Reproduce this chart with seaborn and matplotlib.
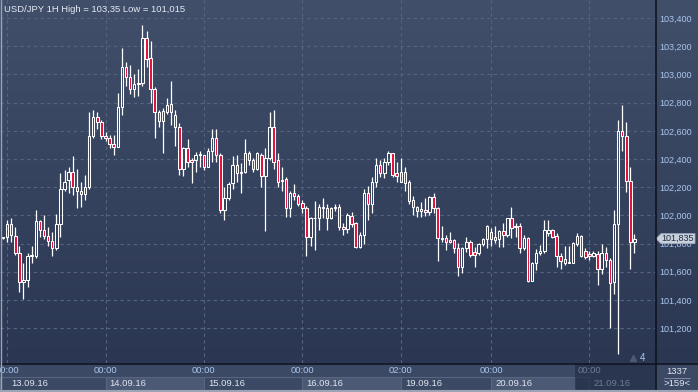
import numpy as np
import matplotlib
matplotlib.use('Agg')
import seaborn as sns
import matplotlib.pyplot as plt
import matplotlib.transforms as mtrans
from matplotlib.patches import Polygon
from matplotlib.lines import Line2D

# USD/JPY hourly candles, 13.09.16 - 21.09.16
opens = [101.84, 101.847, 101.94, 101.855, 101.73, 101.53, 101.54, 101.71, 101.71, 101.96,
         101.90, 101.855, 101.82, 101.77, 101.94, 102.19, 102.25, 102.31, 102.20, 102.17,
         102.15, 102.20, 102.56, 102.70, 102.66, 102.565, 102.55, 102.51, 102.485, 102.77,
         103.05, 102.98, 102.90, 102.93, 102.94, 103.26, 103.12, 102.90, 102.73, 102.67,
         102.73, 102.79, 102.71, 102.63, 102.33, 102.48, 102.39, 102.39, 102.43, 102.43,
         102.34, 102.46, 102.55, 102.43, 102.04, 102.12, 102.23, 102.36, 102.31, 102.31,
         102.44, 102.39, 102.33, 102.43, 102.28, 102.41, 102.63, 102.39, 102.245, 102.26,
         102.05, 102.16, 102.14, 102.09, 102.05, 101.85, 101.98, 101.98, 102.06, 102.05,
         101.98, 102.05, 102.06, 101.92, 101.905, 101.995, 101.945, 101.775, 101.86, 102.16,
         102.08, 102.24, 102.36, 102.30, 102.38, 102.44, 102.30, 102.24, 102.31, 102.24,
         102.11, 102.06, 102.03, 102.04, 102.025, 102.13, 102.05, 101.84, 101.84, 101.825,
         101.825, 101.77, 101.635, 101.77, 101.81, 101.74, 101.73, 101.80, 101.83, 101.88,
         101.845, 101.83, 101.89, 101.86, 101.98, 101.92, 101.925, 101.77, 101.84, 101.535,
         101.665, 101.73, 101.745, 101.875, 101.90, 101.855, 101.71, 101.665, 101.665, 101.665,
         101.80, 101.855, 101.745, 101.725, 101.71, 101.725, 101.62, 101.735, 101.685, 101.53,
         101.94, 102.60, 102.56, 102.245, 101.81]
highs = [101.85, 101.967, 101.98, 101.92, 101.78, 101.66, 101.73, 101.78, 102.04, 101.97,
         102.00, 101.92, 101.88, 102.01, 102.30, 102.32, 102.34, 102.42, 102.33, 102.24,
         102.29, 102.73, 102.75, 102.73, 102.68, 102.59, 102.57, 102.57, 102.87, 103.19,
         103.09, 103.07, 103.00, 103.04, 103.35, 103.31, 103.24, 102.91, 102.75, 102.76,
         102.83, 102.95, 102.75, 102.655, 102.485, 102.54, 102.41, 102.45, 102.46, 102.43,
         102.48, 102.61, 102.61, 102.44, 102.20, 102.24, 102.42, 102.43, 102.37, 102.54,
         102.46, 102.41, 102.45, 102.44, 102.48, 102.73, 102.75, 102.44, 102.34, 102.27,
         102.17, 102.22, 102.15, 102.11, 102.07, 101.99, 102.10, 102.08, 102.12, 102.08,
         102.06, 102.08, 102.08, 101.945, 102.02, 102.025, 101.95, 101.88, 102.19, 102.21,
         102.27, 102.41, 102.39, 102.41, 102.46, 102.44, 102.38, 102.41, 102.34, 102.25,
         102.14, 102.07, 102.095, 102.12, 102.14, 102.16, 102.06, 101.925, 101.86, 101.88,
         101.83, 101.805, 101.775, 101.845, 101.825, 101.775, 101.805, 101.84, 101.93, 101.91,
         101.925, 101.895, 101.945, 101.985, 102.06, 101.945, 101.945, 101.86, 101.845, 101.67,
         101.76, 101.79, 101.97, 101.97, 101.905, 101.875, 101.735, 101.78, 101.78, 101.81,
         101.875, 101.86, 101.77, 101.745, 101.745, 101.745, 101.80, 101.775, 101.70, 102.04,
         102.68, 102.78, 102.66, 102.34, 101.87]
lows = [101.83, 101.81, 101.81, 101.72, 101.46, 101.41, 101.49, 101.66, 101.70, 101.85,
        101.83, 101.78, 101.71, 101.755, 101.85, 102.17, 102.16, 102.145, 102.05, 102.06,
        102.11, 102.19, 102.55, 102.61, 102.54, 102.53, 102.48, 102.43, 102.485, 102.71,
        102.92, 102.86, 102.84, 102.85, 102.92, 103.05, 102.80, 102.55, 102.63, 102.44,
        102.72, 102.64, 102.49, 102.29, 102.28, 102.34, 102.23, 102.31, 102.34, 102.32,
        102.34, 102.38, 102.38, 102.02, 101.97, 102.11, 102.19, 102.24, 102.16, 102.30,
        102.36, 102.31, 102.32, 102.20, 101.89, 102.39, 102.33, 102.20, 102.17, 101.99,
        101.99, 102.11, 102.07, 102.02, 101.71, 101.78, 101.755, 101.90, 101.98, 101.90,
        101.975, 102.03, 101.90, 101.86, 101.875, 101.92, 101.77, 101.77, 101.80, 101.97,
        102.02, 102.20, 102.27, 102.265, 102.36, 102.27, 102.24, 102.24, 102.17, 102.08,
        102.00, 101.99, 101.99, 101.995, 102.00, 102.02, 101.68, 101.81, 101.755, 101.805,
        101.735, 101.57, 101.59, 101.74, 101.705, 101.635, 101.72, 101.785, 101.77, 101.78,
        101.805, 101.775, 101.775, 101.845, 101.84, 101.85, 101.735, 101.755, 101.53, 101.535,
        101.61, 101.72, 101.735, 101.855, 101.84, 101.635, 101.62, 101.65, 101.66, 101.66,
        101.785, 101.705, 101.69, 101.685, 101.705, 101.505, 101.585, 101.635, 101.20, 101.445,
        101.015, 102.46, 102.165, 101.62, 101.73]
closes = [101.845, 101.94, 101.86, 101.73, 101.53, 101.54, 101.71, 101.72, 101.96, 101.90,
          101.855, 101.82, 101.77, 101.94, 102.19, 102.24, 102.31, 102.20, 102.17, 102.15,
          102.20, 102.56, 102.70, 102.66, 102.56, 102.55, 102.51, 102.485, 102.77, 103.05,
          102.98, 102.90, 102.93, 102.94, 103.26, 103.11, 102.90, 102.73, 102.67, 102.74,
          102.78, 102.73, 102.63, 102.33, 102.48, 102.38, 102.38, 102.43, 102.435, 102.34,
          102.46, 102.55, 102.43, 102.04, 102.12, 102.22, 102.36, 102.30, 102.30, 102.44,
          102.39, 102.33, 102.44, 102.28, 102.41, 102.63, 102.38, 102.24, 102.245, 102.05,
          102.16, 102.14, 102.08, 102.05, 101.85, 101.98, 101.982, 102.06, 102.05, 101.98,
          102.05, 102.06, 101.92, 101.905, 102.00, 101.94, 101.775, 101.86, 102.16, 102.08,
          102.24, 102.36, 102.30, 102.38, 102.44, 102.29, 102.28, 102.31, 102.23, 102.10,
          102.06, 102.03, 102.045, 102.025, 102.13, 102.05, 101.84, 101.83, 101.81, 101.81,
          101.77, 101.635, 101.77, 101.81, 101.72, 101.72, 101.80, 101.83, 101.925, 101.83,
          101.825, 101.89, 101.86, 101.98, 101.91, 101.925, 101.77, 101.84, 101.535, 101.665,
          101.735, 101.745, 101.90, 101.90, 101.85, 101.71, 101.68, 101.69, 101.67, 101.805,
          101.855, 101.71, 101.705, 101.71, 101.735, 101.62, 101.73, 101.685, 101.52, 101.94,
          102.60, 102.56, 102.245, 101.81, 101.835]

price_levels = [101.2, 101.4, 101.6, 101.8, 102.0, 102.2, 102.4, 102.6, 102.8, 103.0, 103.2, 103.4]
day_ticks = [1, 25, 49, 73, 97, 119, 143]
time_labels = ['00:00', '00:00', '00:00', '00:00', '02:00', '00:00', '00:00']
date_labels = ['13.09.16', '14.09.16', '15.09.16', '16.09.16', '19.09.16', '20.09.16', '21.09.16']
title = 'USD/JPY 1H High = 103,35 Low = 101,015'

BG_TOP = '#414f6b'
BG_BOT = '#2b3752'
STRIP = '#3c4965'
RED = '#e0103c'
GRID = '#56657f'
BLUE_TXT = '#a9c6ec'
FS = 6.5

sns.set_theme(style='dark', rc={'axes.facecolor': 'none', 'figure.facecolor': STRIP})
plt.rcParams['font.family'] = ['Liberation Sans', 'DejaVu Sans']

W, H = 698, 392
fig = plt.figure(figsize=(W / 100, H / 100), dpi=100)

# gradient background behind plot area and right price panel
bg = fig.add_axes([0, 29 / H, 1, 363 / H], zorder=0)
grad = np.linspace(0, 1, 256).reshape(-1, 1)
cmap = matplotlib.colors.LinearSegmentedColormap.from_list('bg', [BG_TOP, BG_BOT])
bg.imshow(grad, aspect='auto', cmap=cmap, extent=[0, 1, 0, 1])
bg.set_axis_off()

ax = fig.add_axes([0, 29 / H, 655 / W, 363 / H], zorder=2)
ax.set_facecolor('none')
n = len(closes)
ax.set_xlim(-0.73, 159.0)
ax.set_ylim(100.953, 103.528)

idx = np.arange(n)
o, h, l, c = (np.array(v) for v in (opens, highs, lows, closes))
top = np.maximum(o, c)
bot = np.minimum(o, c)
up = c >= o

ax.set_xticks(day_ticks)
ax.set_yticks(price_levels)
ax.grid(True, color=GRID, lw=0.8, ls=(0, (3, 3)))
ax.tick_params(axis='x', length=0, labelbottom=False)
ax.yaxis.tick_right()
ax.tick_params(axis='y', length=0, pad=3, labelsize=FS, labelcolor=BLUE_TXT)
ax.set_yticklabels([f'{v:.3f}'.replace('.', ',') for v in price_levels])
for s in ax.spines.values():
    s.set_visible(False)

ax.vlines(idx, top, h, color='white', lw=0.9, zorder=3)
ax.vlines(idx, l, bot, color='white', lw=0.9, zorder=3)
ax.bar(idx, np.maximum(top - bot, 0.004), bottom=bot, width=0.6,
       color=[('none' if u else RED) for u in up], edgecolor='white', linewidth=0.75, zorder=4)

ax.text(4 / 655, 1 - 9 / 363, title, transform=ax.transAxes, ha='left', va='center',
        fontsize=FS + 0.3, color='#e4eaf3')

# small marker bottom right of plot
ax.plot([633 / 655], [1 - 358 / 363], marker='^', ms=4, color='#4d5a74', transform=ax.transAxes)
ax.text(643 / 655, 1 - 358 / 363, '4', transform=ax.transAxes, ha='center', va='center',
        fontsize=FS + 0.5, color=BLUE_TXT)

# last price tag
yt = mtrans.blended_transform_factory(fig.transFigure, ax.transData)
last = closes[-1]
tag_h = 5 / 363 * (103.528 - 100.953)
tag = Polygon([(656 / W, last), (661 / W, last + tag_h), (695 / W, last + tag_h),
               (695 / W, last - tag_h), (661 / W, last - tag_h)], closed=True,
              transform=yt, facecolor='#c9d1dc', edgecolor='#9aa6b8', lw=0.6, zorder=10, clip_on=False)
fig.add_artist(tag)
fig.text(661.5 / W, last, f'{last:.3f}'.replace('.', ','), transform=yt,
         fontsize=FS, color='#1f2a42', ha='left', va='center', zorder=11)

# bottom time strip
ax_b = fig.add_axes([0, 0, 655 / W, 29 / H], zorder=1)
ax_b.set_xlim(ax.get_xlim())
ax_b.set_ylim(0, 1)
ax_b.set_facecolor(STRIP)
ax_b.set_xticks([])
ax_b.set_yticks([])
for s in ax_b.spines.values():
    s.set_visible(False)
edges = [ax.get_xlim()[0]] + day_ticks[1:] + [139.5]
for i in range(len(edges) - 1):
    fc = '#4b5975' if i % 2 == 1 else STRIP
    ax_b.axvspan(edges[i], edges[i + 1], ymin=0.07, ymax=0.52, facecolor=fc, edgecolor='#57657f', lw=0.8)
for i, (t, lab, d) in enumerate(zip(day_ticks, time_labels, date_labels)):
    dim = i == len(day_ticks) - 1
    ax_b.text(t, 0.74, lab, ha='center', va='center', fontsize=FS + 0.3,
              color='#6d7b93' if dim else BLUE_TXT)
    ax_b.text(t + 1.0, 0.3, d, ha='left', va='center', fontsize=FS + 0.3,
              color='#6d7b93' if dim else '#dfe6ef')
ax_b.axvspan(139.5, ax.get_xlim()[1], ymin=0.05, ymax=0.97, facecolor='#25304a', alpha=0.75, lw=0)

# bottom-right counter
fig.text(677 / W, 1 - 371 / H, '1337', ha='center', va='center', fontsize=FS + 0.3, color='#dfe6ef')
fig.text(677 / W, 1 - 384 / H, '>159<', ha='center', va='center', fontsize=FS + 0.3, color='#dfe6ef')
fig.add_artist(Line2D([664 / W, 690 / W], [1 - 377.5 / H] * 2, color='#8592a8', lw=0.6))

# panel separators
fig.add_artist(Line2D([0, 1], [1 - 363.5 / H] * 2, color='#0b101b', lw=1.1, zorder=20))
fig.add_artist(Line2D([655.5 / W] * 2, [0, 1], color='#0b101b', lw=1.1, zorder=20))
fig.add_artist(Line2D([0.5 / W] * 2, [0, 1], color='#9aa4b4', lw=1.0, zorder=20))
fig.add_artist(Line2D([0, 1], [1.0 / H] * 2, color='#9aa4b4', lw=1.5, zorder=20))

fig.savefig('out.png', dpi=100)
